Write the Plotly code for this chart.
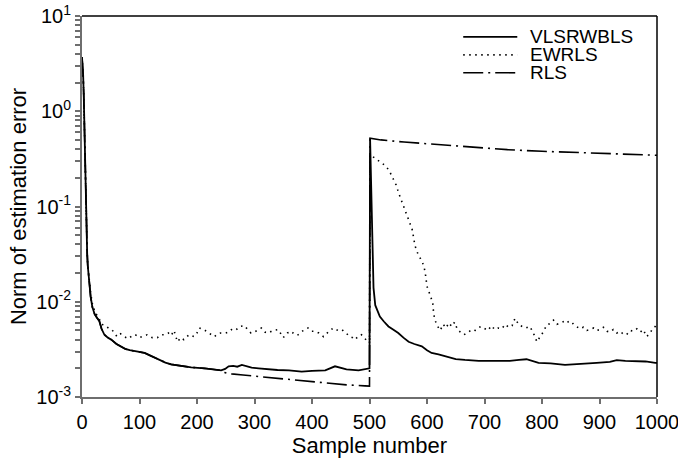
import plotly.graph_objects as go

# sample numbers and error norms
vls_n = [0, 1, 2, 3, 4, 5, 6, 7, 8, 9, 10, 12, 15, 18, 22, 26, 30, 34, 39, 45, 51, 60, 68, 75, 83, 95,
         109, 120, 132, 145, 155, 165, 173, 190, 213, 230, 242, 249, 255, 263, 270, 278, 285, 295, 307,
         320, 340, 360, 382, 400, 423, 440, 460, 481, 490, 498, 500,
         501, 502, 503, 504, 505, 506, 507, 510, 513, 518, 525, 533, 541, 550, 559, 568, 578, 591, 600,
         608, 620, 637, 650, 666, 690, 724, 744, 760, 773, 794, 815, 840, 856, 872, 895, 918, 930, 945,
         965, 980, 997, 1000]
vls_v = [3.7, 3.2, 2.4, 1.5, 0.7, 0.35, 0.16, 0.07, 0.045, 0.032, 0.024, 0.016, 0.0113, 0.0088, 0.0074,
         0.0068, 0.0063, 0.0052, 0.0045, 0.0042, 0.0040, 0.0036, 0.0034, 0.0032, 0.0031, 0.0030,
         0.0029, 0.0027, 0.0025, 0.0023, 0.0022, 0.00215, 0.0021, 0.00205, 0.0020, 0.00195, 0.0019,
         0.00197, 0.0021, 0.00212, 0.00208, 0.00217, 0.0021, 0.00203, 0.0020, 0.00196, 0.00192,
         0.0019, 0.00185, 0.00188, 0.0019, 0.0021, 0.00195, 0.0019, 0.00195, 0.0020, 0.0020,
         0.52, 0.30, 0.12, 0.06, 0.035, 0.02, 0.014, 0.0092, 0.0082, 0.0070, 0.0062, 0.0055, 0.0051,
         0.0047, 0.0042, 0.0038, 0.0036, 0.0034, 0.0031, 0.0029, 0.0028, 0.0026, 0.0025, 0.00245,
         0.0024, 0.0024, 0.0024, 0.00245, 0.00249, 0.00228, 0.00225, 0.00217, 0.0022, 0.0022, 0.00228,
         0.00234, 0.00244, 0.0024, 0.0024, 0.00236, 0.00228, 0.00228]

ew_n = [0, 1, 2, 3, 4, 5, 6, 7, 8, 9, 10, 12, 15, 18, 22, 26, 30, 34, 38, 46, 52, 61, 67, 73, 81, 87,
        93, 99, 105, 113, 122, 131, 137, 142, 150, 155, 160, 166, 172, 177, 186, 195, 200, 204, 212,
        221, 230, 236, 241, 250, 255, 260, 267, 274, 283, 289, 294, 302, 312, 318, 324, 332, 341, 346,
        350, 357, 364, 370, 376, 385, 393, 399, 405, 412, 420, 428, 437, 445, 452, 459, 466, 471, 475,
        481, 486, 492, 498, 500,
        501, 507, 517, 527, 534, 540, 546, 551, 557, 562, 568, 574, 577, 579, 584, 588, 592, 595, 597,
        600, 605, 610, 611, 613, 617, 623, 628, 633, 638, 643, 648, 653, 658, 664, 670, 676, 682, 688,
        694, 700, 706, 712, 718, 724, 730, 736, 742, 748, 753, 760, 766, 772, 779, 784, 788, 791, 797,
        803, 808, 814, 820, 826, 832, 838, 843, 849, 854, 860, 866, 872, 878, 884, 890, 895, 901, 907,
        913, 918, 924, 930, 936, 941, 947, 953, 959, 965, 971, 976, 982, 988, 993, 997, 1000]
ew_v = [3.7, 3.2, 2.4, 1.5, 0.7, 0.35, 0.16, 0.07, 0.045, 0.032, 0.024, 0.017, 0.0125, 0.0095, 0.0080,
        0.0072, 0.0066, 0.0058, 0.0057, 0.0053, 0.0051, 0.0043, 0.0046, 0.0043, 0.0041, 0.0044,
        0.0045, 0.0042, 0.0043, 0.0045, 0.0042, 0.0042, 0.0045, 0.0045, 0.0047, 0.0044, 0.0050,
        0.0038, 0.0042, 0.0040, 0.0045, 0.0043, 0.0047, 0.0053, 0.0051, 0.0047, 0.0043, 0.0046,
        0.0047, 0.0047, 0.0048, 0.0051, 0.0050, 0.0055, 0.0056, 0.0050, 0.0047, 0.0049, 0.0053,
        0.0048, 0.0047, 0.0050, 0.0051, 0.0046, 0.0042, 0.0047, 0.0049, 0.0045, 0.0045, 0.0050,
        0.0053, 0.0049, 0.0049, 0.0047, 0.0043, 0.0048, 0.0053, 0.0050, 0.0051, 0.0047, 0.0043,
        0.0042, 0.0040, 0.0044, 0.0045, 0.0041, 0.0038, 0.0037,
        0.35, 0.33, 0.30, 0.27, 0.24, 0.205, 0.17, 0.137, 0.11, 0.092, 0.075, 0.058, 0.046, 0.039,
        0.032, 0.029, 0.026, 0.023, 0.020, 0.0145, 0.0118, 0.0098, 0.0082, 0.0067, 0.0057, 0.0050,
        0.0058, 0.0053, 0.0060, 0.0055, 0.0061, 0.0051, 0.0048, 0.0045, 0.0047, 0.0050, 0.0049,
        0.0053, 0.0055, 0.0052, 0.0050, 0.0056, 0.0051, 0.0053, 0.0052, 0.0058, 0.0054, 0.0056,
        0.0067, 0.0057, 0.0055, 0.0053, 0.0055, 0.0048, 0.0043, 0.0038, 0.0043, 0.0049, 0.0057,
        0.0059, 0.0064, 0.0058, 0.0060, 0.0062, 0.0064, 0.0058, 0.0059, 0.0055, 0.0052, 0.0054,
        0.0050, 0.0051, 0.0053, 0.0050, 0.0051, 0.0054, 0.0049, 0.0048, 0.0051, 0.0047, 0.0049,
        0.0046, 0.0045, 0.0050, 0.0049, 0.0052, 0.0048, 0.0051, 0.0043, 0.0047, 0.0053, 0.0055,
        0.0059, 0.0060]

rls_n = [0, 1, 2, 3, 4, 5, 6, 7, 8, 9, 10, 12, 15, 18, 22, 26, 30, 34, 39, 45, 51, 60, 68, 75, 83, 95,
         109, 120, 132, 145, 155, 165, 173, 190, 213, 230, 242, 249, 260, 280, 307, 330, 365, 390, 423,
         460, 492, 500,
         501, 520, 560, 600, 650, 700, 740, 800, 850, 900, 950, 1000]
rls_v = [3.7, 3.2, 2.4, 1.5, 0.7, 0.35, 0.16, 0.07, 0.045, 0.032, 0.024, 0.016, 0.0113, 0.0088, 0.0074,
         0.0068, 0.0063, 0.0052, 0.0045, 0.0042, 0.0040, 0.0036, 0.0034, 0.0032, 0.0031, 0.0030,
         0.0029, 0.0027, 0.0025, 0.0023, 0.0022, 0.00215, 0.0021, 0.00205, 0.0020, 0.00195, 0.0019,
         0.0018, 0.00175, 0.0017, 0.00164, 0.0016, 0.00151, 0.00146, 0.00139, 0.00134, 0.00131, 0.0013,
         0.52, 0.50, 0.475, 0.455, 0.435, 0.41, 0.395, 0.38, 0.37, 0.36, 0.35, 0.345]

x_ticks = [0, 100, 200, 300, 400, 500, 600, 700, 800, 900, 1000]
y_major = [0.001, 0.01, 0.1, 1, 10]
y_major_text = ['10<sup>-3</sup>', '10<sup>-2</sup>', '10<sup>-1</sup>', '10<sup>0</sup>', '10<sup>1</sup>']

names = ['VLSRWBLS', 'EWRLS', 'RLS']
dashes = ['solid', '1.5px,4.5px', '20px,5px,2px,5px']

# all decade sub-ticks, labels only on powers of ten
y_tickvals = []
y_ticktext = []
for d in y_major[:-1]:
    for k in range(1, 10):
        y_tickvals.append(d * k)
        y_ticktext.append(y_major_text[y_major.index(d)] if k == 1 else '')
y_tickvals.append(10)
y_ticktext.append(y_major_text[-1])

FONT = 'Liberation Sans, Arial, sans-serif'
AXC = '#6e6e6e'

fig = go.Figure()
fig.add_trace(go.Scatter(x=rls_n, y=rls_v, mode='lines', name=names[2],
                         line=dict(color='black', width=1.6, dash=dashes[2])))
fig.add_trace(go.Scatter(x=ew_n, y=ew_v, mode='lines', name=names[1],
                         line=dict(color='black', width=1.6, dash=dashes[1])))
fig.add_trace(go.Scatter(x=vls_n, y=vls_v, mode='lines', name=names[0],
                         line=dict(color='black', width=1.8)))

# hand made legend (longer line samples than plotly's)
leg_y = [0.945, 0.898, 0.851]
for i in range(3):
    fig.add_shape(type='line', xref='paper', yref='paper', x0=0.663, x1=0.757,
                  y0=leg_y[i], y1=leg_y[i],
                  line=dict(color='black', width=1.6 if i else 1.8, dash=dashes[i]))
    fig.add_annotation(xref='paper', yref='paper', x=0.775, y=leg_y[i], text=names[i],
                       showarrow=False, xanchor='left', yanchor='middle',
                       font=dict(size=19, color='black'))

# black frame on top and right
fig.add_shape(type='line', xref='paper', yref='paper', x0=0, x1=1, y0=1, y1=1,
              line=dict(color='black', width=1.5))
fig.add_shape(type='line', xref='paper', yref='paper', x0=1, x1=1, y0=0, y1=1,
              line=dict(color='black', width=1.5))

fig.update_layout(
    width=678, height=458,
    margin=dict(l=82, r=21, t=16, b=61),
    paper_bgcolor='white', plot_bgcolor='white',
    showlegend=False,
    font=dict(family=FONT, size=20, color='black'),
    xaxis=dict(
        range=[0, 1000], tickvals=x_ticks, ticks='outside', ticklen=5, tickwidth=1.5,
        tickcolor=AXC, showline=True, linecolor=AXC, linewidth=2, showgrid=False,
        zeroline=False, ticklabelstandoff=1, automargin=False, ticklabeloverflow='allow',
        title=dict(text='Sample number', font=dict(size=22), standoff=0),
    ),
    yaxis=dict(
        type='log', range=[-3, 1], tickvals=y_tickvals, ticktext=y_ticktext,
        ticks='outside', ticklen=5, tickwidth=1.5, tickcolor=AXC, showline=True,
        linecolor=AXC, linewidth=2, showgrid=False, zeroline=False, automargin=False,
        ticklabeloverflow='allow',
        title=dict(text='Norm of estimation error', font=dict(size=22), standoff=4),
    ),
)

# drop the default 8px page margin so the figure fills the window exactly
fig.write_html('out.html', config={'displayModeBar': False},
               post_script="document.body.style.margin='0px';")
